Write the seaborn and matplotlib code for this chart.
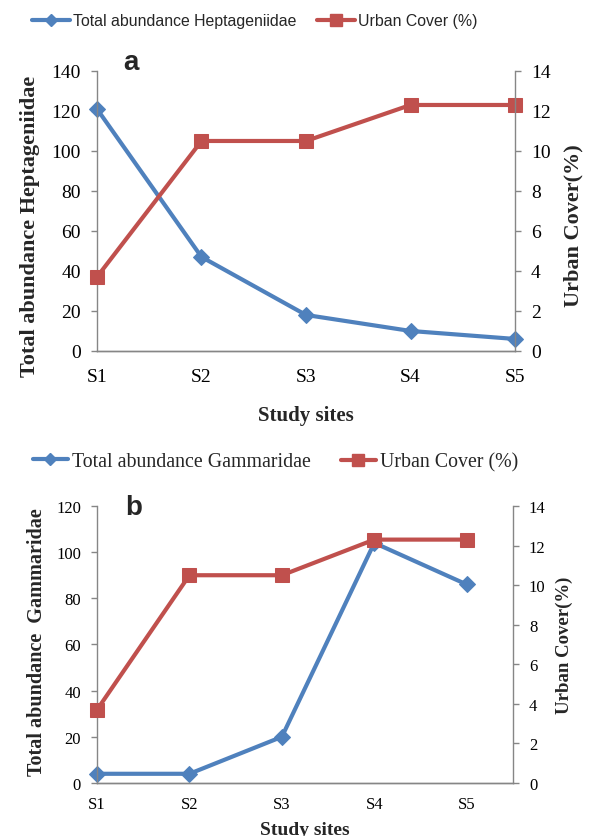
import pandas as pd
import matplotlib.pyplot as plt
import seaborn as sns
from matplotlib.lines import Line2D

# --- Data ---
sites = ["S1", "S2", "S3", "S4", "S5"]
heptageniidae = [121, 47, 18, 10, 6]
gammaridae = [4, 4, 20, 104, 86]
urban_cover = [3.7, 10.5, 10.5, 12.3, 12.3]

BLUE = "#4F81BD"
RED = "#C0504D"
GREY = "#868686"

sns.set_style("white")
plt.rcParams["font.family"] = ["Liberation Serif", "DejaVu Serif"]

df = pd.DataFrame({
    "pos": range(len(sites)),
    "hept": heptageniidae,
    "gamm": gammaridae,
    "urban": urban_cover,
})


def style_axes(ax, twin, tick_size, xpad):
    for a in (ax, twin):
        for s in a.spines.values():
            s.set_color(GREY)
            s.set_linewidth(1.0)
        a.spines["top"].set_visible(False)
        a.tick_params(axis="both", direction="out", length=4.5, width=1, pad=7,
                      color=GREY, labelsize=tick_size, labelcolor="black")
    ax.tick_params(axis="x", pad=xpad)
    ax.spines["right"].set_visible(False)
    twin.spines["left"].set_visible(False)
    ax.set_xticks(range(len(sites)))
    ax.set_xticklabels(sites)


def draw_panel(ax, ycol, ymax, xmax, tick_size, xpad):
    twin = ax.twinx()
    sns.lineplot(data=df, x="pos", y=ycol, ax=ax, color=BLUE, lw=3,
                 marker="D", markersize=8, markeredgecolor=BLUE, clip_on=False)
    sns.lineplot(data=df, x="pos", y="urban", ax=twin, color=RED, lw=3,
                 marker="s", markersize=10, markeredgecolor=RED, clip_on=False)
    ax.set_ylim(0, ymax)
    ax.set_yticks(range(0, ymax + 1, 20))
    twin.set_ylim(0, 14)
    twin.set_yticks(range(0, 15, 2))
    ax.set_xlim(0, xmax)
    style_axes(ax, twin, tick_size, xpad)
    ax.set_xlabel("")
    twin.set_ylabel("")
    return twin


def add_legend(fig, labels, xs, y, font):
    handles = [
        Line2D([], [], color=BLUE, lw=3, marker="D", markersize=6),
        Line2D([], [], color=RED, lw=3, marker="s", markersize=9),
    ]
    for h, lab, x in zip(handles, labels, xs):
        fig.legend([h], [lab], loc="center left", bbox_to_anchor=(x, y),
                   frameon=False, borderpad=0, borderaxespad=0,
                   handlelength=font["hl"], handletextpad=0.2,
                   prop={"family": font["family"], "size": font["size"]})


fig = plt.figure(figsize=(5.9, 8.37), dpi=100)

# --- Panel a ---
ax_a = fig.add_axes([0.1644, 0.5795, 0.7085, 0.3345])
tw_a = draw_panel(ax_a, "hept", 140, 4, 14, 8)
ax_a.set_ylabel("Total abundance Heptageniidae", fontsize=16, fontweight="bold")
ax_a.yaxis.set_label_coords(-0.136, 0.45)
tw_a.set_ylabel("Urban Cover(%)", fontsize=16, fontweight="bold")
tw_a.yaxis.set_label_coords(1.115, 0.45)
ax_a.set_xlabel("Study sites", fontsize=15, fontweight="bold", labelpad=14)
fig.text(0.2085, 0.9164, "a", fontsize=20, fontweight="bold", family="Liberation Sans")

add_legend(fig, ["Total abundance Heptageniidae", "Urban Cover (%)"],
           [0.054, 0.537], 0.974, {"family": "Liberation Sans", "size": 11.4, "hl": 2.4})

# --- Panel b ---
ax_b = fig.add_axes([0.1644, 0.0633, 0.705, 0.331])
tw_b = draw_panel(ax_b, "gamm", 120, 4.5, 12, 5)
ax_b.set_ylabel("Total abundance  Gammaridae", fontsize=14.5, fontweight="bold")
ax_b.yaxis.set_label_coords(-0.12, 0.513)
tw_b.set_ylabel("Urban Cover(%)", fontsize=13.5, fontweight="bold")
tw_b.yaxis.set_label_coords(1.103, 0.5)
ax_b.set_xlabel("Study sites", fontsize=14, fontweight="bold", labelpad=6)
fig.text(0.212, 0.3847, "b", fontsize=20, fontweight="bold", family="Liberation Sans")

add_legend(fig, ["Total abundance Gammaridae", "Urban Cover (%)"],
           [0.056, 0.578], 0.447, {"family": "Liberation Serif", "size": 14.3, "hl": 1.75})

fig.savefig("out.png", dpi=100)
